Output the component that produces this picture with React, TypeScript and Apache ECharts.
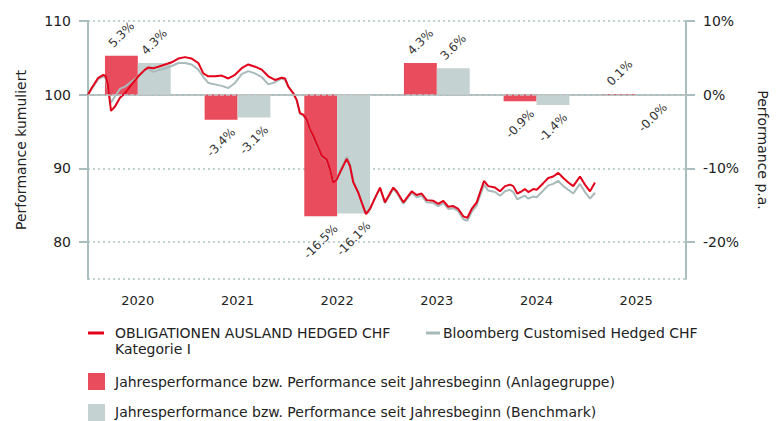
import React, { useEffect, useRef } from "react";
import * as echarts from "echarts";

const years = ["2020", "2021", "2022", "2023", "2024", "2025"];
const fundYearPerf = [5.3, -3.4, -16.5, 4.3, -0.9, 0.1];
const benchYearPerf = [4.3, -3.1, -16.1, 3.6, -1.4, -0.04];

const fundName = "OBLIGATIONEN AUSLAND HEDGED CHF Kategorie I";
const benchName = "Bloomberg Customised Hedged CHF";
const barFundName = "Jahresperformance bzw. Performance seit Jahresbeginn (Anlagegruppe)";
const barBenchName = "Jahresperformance bzw. Performance seit Jahresbeginn (Benchmark)";

// decimal years
const times = [
  2020.0, 2020.037, 2020.103, 2020.154, 2020.178, 2020.198, 2020.231, 2020.271, 2020.321, 2020.371,
  2020.438, 2020.505, 2020.572, 2020.605, 2020.655, 2020.705, 2020.773, 2020.84, 2020.906, 2020.973,
  2021.04, 2021.107, 2021.157, 2021.207, 2021.274, 2021.341, 2021.408, 2021.475, 2021.542, 2021.608,
  2021.676, 2021.743, 2021.809, 2021.876, 2021.943, 2021.977, 2022.01, 2022.06, 2022.094, 2022.127,
  2022.16, 2022.194, 2022.227, 2022.26, 2022.311, 2022.345, 2022.395, 2022.428, 2022.461, 2022.495,
  2022.545, 2022.596, 2022.629, 2022.662, 2022.712, 2022.746, 2022.789, 2022.829, 2022.88, 2022.93,
  2022.98, 2023.063, 2023.097, 2023.164, 2023.248, 2023.298, 2023.348, 2023.398, 2023.465, 2023.515,
  2023.565, 2023.615, 2023.665, 2023.715, 2023.766, 2023.806, 2023.85, 2023.9, 2023.973, 2024.016,
  2024.084, 2024.134, 2024.184, 2024.234, 2024.267, 2024.307, 2024.351, 2024.384, 2024.418, 2024.468,
  2024.502, 2024.568, 2024.618, 2024.668, 2024.719, 2024.769, 2024.819, 2024.869, 2024.936, 2024.986,
  2025.037, 2025.087,
];

const fundCum = [
  100.0, 100.9, 102.3, 102.7, 102.5, 101.4, 97.8, 98.4, 99.6, 100.2,
  101.4, 102.5, 103.4, 103.7, 103.6, 103.8, 104.1, 104.4, 104.9, 105.1,
  104.9, 104.3, 102.9, 102.5, 102.5, 102.6, 102.2, 102.7, 103.6, 104.1,
  103.8, 103.4, 102.5, 102.0, 102.3, 102.2, 101.1, 100.2, 99.3, 97.5,
  97.3, 96.6, 95.3, 94.4, 92.8, 91.7, 91.2, 89.9, 88.1, 88.5,
  89.9, 91.3, 90.3, 88.1, 86.7, 85.4, 83.8, 84.5, 86.0, 87.4,
  85.4, 87.4, 86.9, 85.4, 86.9, 86.4, 86.6, 85.7, 85.6, 85.2,
  85.6, 84.8, 84.9, 84.5, 83.5, 83.3, 84.5, 85.4, 88.3, 87.6,
  87.4, 86.9, 87.6, 87.8, 87.6, 86.6, 86.9, 87.2, 86.8, 87.2,
  87.1, 88.0, 88.7, 88.9, 89.4, 88.7, 88.1, 87.6, 88.9, 87.8,
  86.9, 88.1,
];

const benchCum = [
  100.0, 100.8, 102.1, 102.5, 102.2, 100.8, 98.9, 99.8, 100.8, 101.1,
  101.8, 102.5, 103.4, 103.5, 103.1, 103.3, 103.6, 103.9, 104.3, 104.3,
  104.1, 103.4, 102.4, 101.6, 101.4, 101.2, 100.9, 101.6, 102.8, 103.2,
  102.9, 102.4, 101.4, 101.7, 102.2, 102.0, 101.1, 100.1, 99.2, 97.4,
  97.2, 96.5, 95.2, 94.3, 92.7, 91.6, 91.1, 89.9, 88.2, 88.6,
  90.1, 91.6, 90.6, 88.3, 86.8, 85.4, 83.9, 84.5, 86.0, 87.3,
  85.3, 87.2, 86.7, 85.2, 86.7, 86.1, 86.3, 85.4, 85.3, 84.9,
  85.3, 84.5, 84.6, 84.2, 83.1, 82.9, 84.1, 85.0, 87.8, 87.0,
  86.8, 86.3, 86.9, 87.1, 86.8, 85.8, 86.1, 86.3, 85.9, 86.2,
  86.1, 87.0, 87.7, 87.9, 88.3, 87.6, 87.1, 86.6, 87.9, 86.8,
  85.9, 86.7,
];

const FONT = "DejaVu Sans";
const RED_LINE = "#e2001a";
const GRAY_LINE = "#a9baba";
const RED_BAR = "#e94c5d";
const GRAY_BAR = "#c4d2d2";
const AXIS = "#a9bfbf";
const TEXT = "#222222";

const fmtPct = (v: number) => v.toFixed(1) + "%";

const textWidth = (s: string) => {
  let w = 0;
  for (const ch of s) {
    if (ch >= "0" && ch <= "9") w += 7.6;
    else if (ch === ".") w += 3.8;
    else if (ch === "-") w += 4.3;
    else if (ch === "%") w += 11.4;
    else w += 7;
  }
  return w;
};

const barData = (vals: number[]) =>
  vals.map((v) => {
    const w = textWidth(fmtPct(v));
    const d = 6 + (w + 12) * 0.354;
    return {
      value: v,
      label: { position: v >= 0 ? "top" : "bottom", distance: d },
    };
  });

export default function App() {
  const ref = useRef<HTMLDivElement>(null);
  useEffect(() => {
    if (!ref.current) return;
    const chart = echarts.init(ref.current, undefined, { renderer: "svg" });
    const barLabel = {
      show: true,
      rotate: 45,
      align: "center",
      verticalAlign: "middle",
      fontFamily: FONT,
      fontSize: 12,
      color: "#333",
      formatter: (p: any) => fmtPct(p.value),
    };
    const option: any = {
      animation: false,
      textStyle: { fontFamily: FONT },
      grid: { left: 88, right: 92, top: 21, bottom: 142, containLabel: false },
      xAxis: [
        {
          type: "category",
          data: years,
          axisLine: { lineStyle: { color: AXIS, width: 2 } },
          axisTick: { length: 8, lineStyle: { color: AXIS, width: 2 } },
          axisLabel: { fontFamily: FONT, fontSize: 13, color: TEXT, margin: 15 },
          splitLine: { show: false },
        },
        { type: "value", min: 2020, max: 2026, show: false },
      ],
      yAxis: [
        {
          type: "value",
          min: 75,
          max: 110,
          splitNumber: 4,
          position: "left",
          name: "Performance kumuliert",
          nameLocation: "middle",
          nameGap: 60,
          nameTextStyle: { fontFamily: FONT, fontSize: 14, color: TEXT },
          axisLine: { show: true, lineStyle: { color: AXIS, width: 2 } },
          axisTick: { show: true, length: 9, lineStyle: { color: AXIS, width: 2 } },
          axisLabel: { showMinLabel: false, fontFamily: FONT, fontSize: 14, color: TEXT, margin: 17 },
          splitLine: { show: true, lineStyle: { color: "#a9c4c4", type: [2, 3], width: 1.5 } },
        },
        {
          type: "value",
          min: -25,
          max: 10,
          splitNumber: 4,
          position: "right",
          name: "Performance p.a.",
          nameLocation: "middle",
          nameGap: 70,
          nameRotate: -90,
          nameTextStyle: { fontFamily: FONT, fontSize: 14, color: TEXT },
          axisLine: { show: true, lineStyle: { color: AXIS, width: 2 } },
          axisTick: { show: true, length: 9, lineStyle: { color: AXIS, width: 2 } },
          axisLabel: {
            showMinLabel: false,
            fontFamily: FONT,
            fontSize: 14,
            color: TEXT,
            margin: 17,
            formatter: (v: number) => v + "%",
          },
          splitLine: { show: false },
        },
      ],
      series: [
        {
          name: barFundName,
          type: "bar",
          xAxisIndex: 0,
          yAxisIndex: 1,
          data: barData(fundYearPerf),
          itemStyle: { color: RED_BAR },
          barGap: "0%",
          barCategoryGap: "34%",
          label: barLabel,
          z: 2,
        },
        {
          name: barBenchName,
          type: "bar",
          xAxisIndex: 0,
          yAxisIndex: 1,
          data: barData(benchYearPerf),
          itemStyle: { color: GRAY_BAR },
          barGap: "0%",
          barCategoryGap: "34%",
          label: barLabel,
          z: 2,
        },
        {
          name: benchName,
          type: "line",
          xAxisIndex: 1,
          yAxisIndex: 0,
          data: times.map((t, i) => [t, benchCum[i]]),
          showSymbol: false,
          symbol: "none",
          lineStyle: { color: GRAY_LINE, width: 2 },
          itemStyle: { color: GRAY_LINE },
          z: 3,
          markLine: {
            silent: true,
            symbol: "none",
            label: { show: false },
            lineStyle: { color: "#c4c4c4", type: [4, 2], width: 1.5 },
            data: [{ yAxis: 100 }],
          },
        },
        {
          name: fundName,
          type: "line",
          xAxisIndex: 1,
          yAxisIndex: 0,
          data: times.map((t, i) => [t, fundCum[i]]),
          showSymbol: false,
          symbol: "none",
          lineStyle: { color: RED_LINE, width: 2 },
          itemStyle: { color: RED_LINE },
          z: 4,
        },
      ],
      graphic: [
        { type: "line", shape: { x1: 88, y1: 333, x2: 104, y2: 333 }, style: { stroke: RED_LINE, lineWidth: 3 } },
        {
          type: "text",
          x: 115,
          y: 325,
          style: {
            text: "OBLIGATIONEN AUSLAND HEDGED CHF\nKategorie I",
            font: `14px '${FONT}'`,
            fill: TEXT,
            lineHeight: 16,
            verticalAlign: "top",
          },
        },
        { type: "line", shape: { x1: 426, y1: 333, x2: 440, y2: 333 }, style: { stroke: GRAY_LINE, lineWidth: 3 } },
        {
          type: "text",
          x: 443,
          y: 333,
          style: { text: benchName, font: `14px '${FONT}'`, fill: TEXT, verticalAlign: "middle" },
        },
        { type: "rect", shape: { x: 88, y: 373, width: 17, height: 17 }, style: { fill: RED_BAR } },
        {
          type: "text",
          x: 115,
          y: 382,
          style: { text: barFundName, font: `14px '${FONT}'`, fill: TEXT, verticalAlign: "middle" },
        },
        { type: "rect", shape: { x: 88, y: 404, width: 17, height: 17 }, style: { fill: GRAY_BAR } },
        {
          type: "text",
          x: 115,
          y: 412,
          style: { text: barBenchName, font: `14px '${FONT}'`, fill: TEXT, verticalAlign: "middle" },
        },
      ],
    };
    chart.setOption(option);
    return () => chart.dispose();
  }, []);
  return (
    <div
      ref={ref}
      style={{ position: "absolute", left: 0, top: 0, width: 778, height: 421, background: "#fff" }}
    />
  );
}
